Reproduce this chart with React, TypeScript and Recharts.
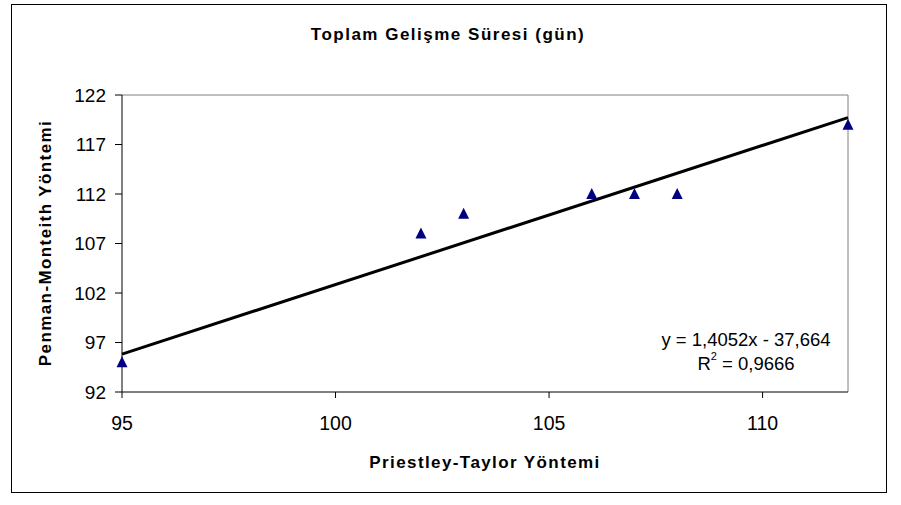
import { Scatter, ScatterChart, XAxis, YAxis, ReferenceLine } from 'recharts'

const ptX = [95, 102, 103, 106, 107, 108, 112]
const ptY = [95, 108, 110, 112, 112, 112, 119]
const xTicks = [95, 100, 105, 110]
const yTicks = [92, 97, 102, 107, 112, 117, 122]

// trend line as printed on the chart
const slope = 1.4052
const intercept = -37.664
const trendEnds = [95, 112]

const points = ptX.map((x, i) => ({ x, y: ptY[i] }))
const trend = trendEnds.map((x) => ({ x, y: slope * x + intercept }))

const font = '"Liberation Sans", Arial, sans-serif'

const Triangle = (props: any) => {
  const { cx, cy } = props
  return (
    <polygon
      points={`${cx},${cy - 6} ${cx - 5.5},${cy + 5} ${cx + 5.5},${cy + 5}`}
      fill="#000080"
    />
  )
}

export default function App() {
  return (
    <div style={{ position: 'absolute', left: 0, top: 0, width: 901, height: 505, background: '#fff' }}>
      <div
        style={{
          position: 'absolute',
          left: 11,
          top: 4,
          width: 874,
          height: 487,
          border: '1px solid #000',
        }}
      />
      <div style={{ position: 'absolute', left: 0, top: 0 }}>
        <ScatterChart
          width={901}
          height={505}
          margin={{ top: 95, right: 53, bottom: 83, left: 62 }}
          style={{ fontFamily: font }}
        >
          <XAxis
            type="number"
            dataKey="x"
            domain={[95, 112]}
            ticks={xTicks}
            height={30}
            axisLine={{ stroke: '#000', strokeWidth: 1 }}
            tickLine={{ stroke: '#000' }}
            tickSize={6}
            tickMargin={18}
            tick={{ fill: '#000', fontSize: 19.5, fontFamily: font }}
          />
          <YAxis
            type="number"
            dataKey="y"
            domain={[92, 122]}
            ticks={yTicks}
            width={60}
            axisLine={{ stroke: '#000', strokeWidth: 1 }}
            tickLine={{ stroke: '#000' }}
            tickSize={7}
            tickMargin={9}
            tick={{ fill: '#000', fontSize: 19, fontFamily: font }}
          />
          <ReferenceLine y={122} stroke="#808080" strokeWidth={1} />
          <ReferenceLine x={112} stroke="#808080" strokeWidth={1} />
          <Scatter
            data={trend}
            line={{ stroke: '#000', strokeWidth: 3 }}
            shape={() => <g />}
            isAnimationActive={false}
          />
          <Scatter data={points} shape={<Triangle />} isAnimationActive={false} />
          <text
            x={448}
            y={34}
            textAnchor="middle"
            dominantBaseline="central"
            fontFamily={font}
            fontWeight="bold"
            fontSize={17}
            letterSpacing={1.5}
            fill="#000"
          >
            Toplam Gelişme Süresi (gün)
          </text>
          <text
            x={485}
            y={462}
            textAnchor="middle"
            dominantBaseline="central"
            fontFamily={font}
            fontWeight="bold"
            fontSize={17}
            letterSpacing={1.4}
            fill="#000"
          >
            Priestley-Taylor Yöntemi
          </text>
          <text
            x={45}
            y={243}
            textAnchor="middle"
            dominantBaseline="central"
            fontFamily={font}
            fontWeight="bold"
            fontSize={17}
            letterSpacing={1.4}
            fill="#000"
            transform="rotate(-90 45 243)"
          >
            Penman-Monteith Yöntemi
          </text>
          <text x={746} y={339} textAnchor="middle" dominantBaseline="central" fontFamily={font} fontSize={18.5} fill="#000">
            y = 1,4052x - 37,664
          </text>
          <text x={746} y={363} textAnchor="middle" dominantBaseline="central" fontFamily={font} fontSize={18.5} fill="#000">
            R<tspan fontSize={11} dy={-7}>2</tspan>
            <tspan dy={7}> = 0,9666</tspan>
          </text>
        </ScatterChart>
      </div>
    </div>
  )
}
